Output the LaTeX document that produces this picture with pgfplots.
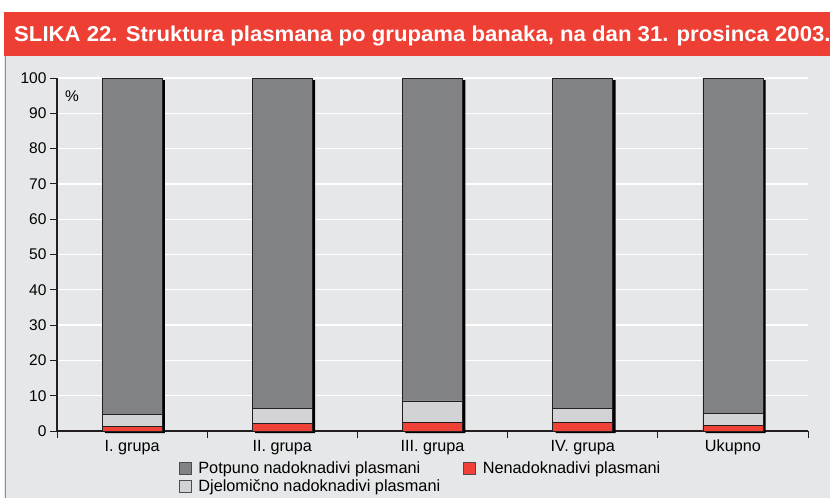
\documentclass[border=0pt]{standalone}
\usepackage{fontspec}
\setmainfont{Liberation Sans}
\usepackage{pgfplots}
\pgfplotsset{compat=1.18}
\usepackage{pgfplotstable}

\definecolor{bgc}{HTML}{E6E7E8}
\definecolor{redc}{HTML}{EF4136}
\definecolor{titlered}{HTML}{EE3F35}
\definecolor{darkbar}{HTML}{808285}
\definecolor{lightbar}{HTML}{D1D3D4}
\definecolor{edge}{HTML}{231F20}

\pgfplotstableread{
x red part full
0 1.4 3.3 95.3
1 2.1 4.3 93.6
2 2.5 6.0 91.5
3 2.5 3.9 93.6
4 1.6 3.4 95.0
}\datatable

\pgfplotsset{sqleg/.style={legend image code/.code={\draw[##1] (0pt,-6pt) rectangle (12pt,6pt); \path (17pt,0pt);}}}

\begin{document}
\begin{tikzpicture}[x=1pt,y=1pt]
\useasboundingbox (0,0) rectangle (830,498);
\fill[bgc] (4,0) rectangle (830,442);
\draw[redc!80, line width=1pt] (5.5,0) -- (5.5,442);
\fill[titlered] (4,442) rectangle (830,486);
\node[anchor=base west, text=white, font=\bfseries\fontsize{21.5}{24}\selectfont, inner sep=0pt, xscale=1.03] at (14,456.5) {SLIKA 22. Struktura plasmana po grupama banaka, na dan 31. prosinca 2003.};

\begin{axis}[
  at={(57pt,67pt)}, anchor=south west,
  scale only axis, width=751pt, height=353pt,
  xmin=-0.5, xmax=4.5, ymin=0, ymax=100,
  clip=false,
  axis x line*=bottom, axis y line*=left,
  axis line style={-, line width=1.4pt, edge},
  ytick={0,10,...,100},
  xtick={-0.5,0.5,...,4.5},
  x tick label as interval,
  xticklabels={I. grupa, II. grupa, III. grupa, IV. grupa, Ukupno},
  tick align=outside, major tick length=7pt,
  tick style={edge, line width=0.8pt},
  ymajorgrids, grid style={white, line width=1.3pt},
  y tick label style={font=\fontsize{15.5}{18}\selectfont},
  x tick label style={font=\fontsize{16.2}{18}\selectfont, text height=11.5pt, text depth=3.5pt, yshift=2pt},
  /pgf/number format/assume math mode=true,
  legend columns=2,
  legend cell align=left,
  legend style={at={(rel axis cs:0.158,-0.075)}, anchor=north west, draw=none, fill=none,
    font=\fontsize{16.3}{18}\selectfont, row sep=1pt,
    /tikz/every even column/.append style={column sep=21pt}},
]
\addplot[ybar, bar width=60pt, bar shift=2.8pt, fill=black, draw=none, forget plot]
  table[x=x, y expr=\thisrow{red}+\thisrow{part}+\thisrow{full}-0.6]{\datatable};
\addplot[ybar, bar width=60pt, bar shift=2.8pt, fill=black, draw=none, forget plot]
  table[x=x, y expr=-0.6]{\datatable};
\addplot[ybar, bar width=60pt, bar shift=0pt, fill=darkbar, draw=edge, line width=0.7pt, forget plot]
  table[x=x, y expr=\thisrow{red}+\thisrow{part}+\thisrow{full}]{\datatable};
\addplot[ybar, bar width=60pt, bar shift=0pt, fill=lightbar, draw=edge, line width=0.7pt, forget plot]
  table[x=x, y expr=\thisrow{red}+\thisrow{part}]{\datatable};
\addplot[ybar, bar width=60pt, bar shift=0pt, fill=redc, draw=edge, line width=0.5pt, forget plot]
  table[x=x, y=red]{\datatable};

\addlegendimage{sqleg, fill=darkbar, draw=edge!80, line width=0.5pt}
\addlegendentry{Potpuno nadoknadivi plasmani}
\addlegendimage{sqleg, fill=redc, draw=edge!80, line width=0.5pt}
\addlegendentry{Nenadoknadivi plasmani}
\addlegendimage{sqleg, fill=lightbar, draw=edge!80, line width=0.5pt}
\addlegendentry{Djelomično nadoknadivi plasmani}

\node[font=\fontsize{15.5}{18}\selectfont] at (rel axis cs:0.02,0.949) {\%};
\end{axis}
\end{tikzpicture}
\end{document}
